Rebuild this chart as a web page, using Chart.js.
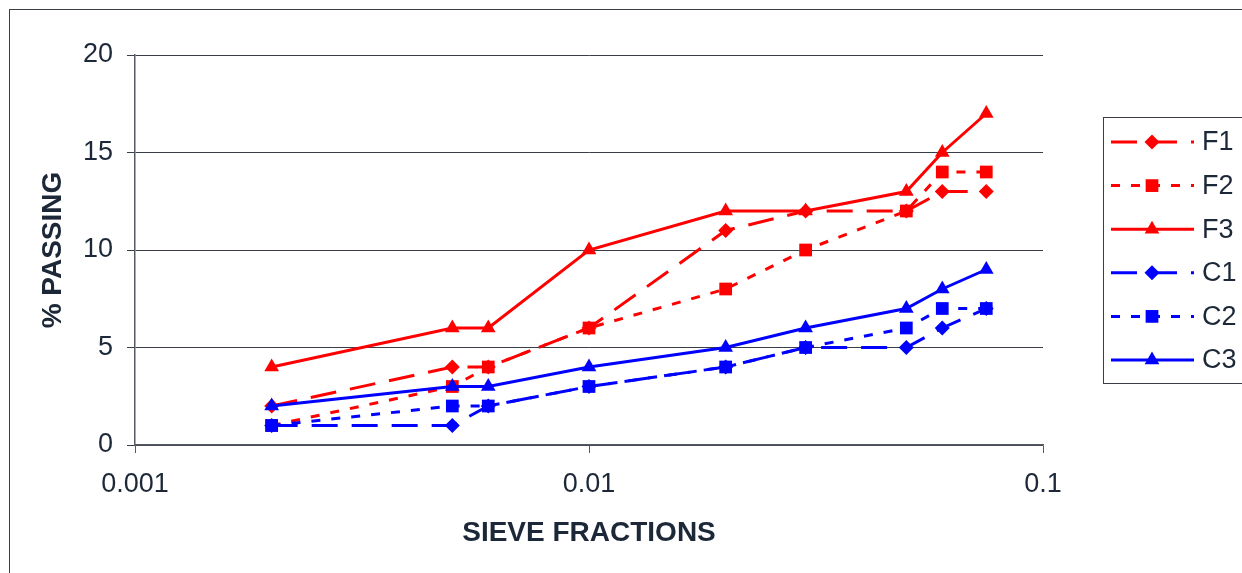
<!DOCTYPE html>
<html><head><meta charset="utf-8">
<script src="https://cdn.jsdelivr.net/npm/chart.js@4"></script>
<style>html,body{margin:0;padding:0;background:#fff}#wrap{width:1242px;height:573px;position:relative}</style>
</head><body><div id="wrap"><canvas id="c" width="1242" height="573"></canvas></div>
<script>
const sieveSizes = [0.002, 0.005, 0.006, 0.01, 0.02, 0.03, 0.05, 0.06, 0.075];
const seriesNames = ['F1', 'F2', 'F3', 'C1', 'C2', 'C3'];
const F1 = [2, 4, 4, 6, 11, 12, 12, 13, 13];
const F2 = [1, 3, 4, 6, 8, 10, 12, 14, 14];
const F3 = [4, 6, 6, 10, 12, 12, 13, 15, 17];
const C1 = [1, 1, 2, 3, 4, 5, 5, 6, 7];
const C2 = [1, 2, 2, 3, 4, 5, 6, 7, 7];
const C3 = [2, 3, 3, 4, 5, 6, 7, 8, 9];
const xTicks = [0.001, 0.01, 0.1];
const yTicks = [0, 5, 10, 15, 20];
const xTitle = 'SIEVE FRACTIONS';
const yTitle = '% PASSING';

const FONT = "'Liberation Sans', Arial, sans-serif";
const TXT = '#1c2838';
const RED = '#ff0000', BLUE = '#0000ff';
const DASH_LONG = [26, 14], DASH_SHORT = [9, 11];

const styles = [
  {color: RED, dash: DASH_LONG, point: 'rectRot', r: 7.5},
  {color: RED, dash: DASH_SHORT, point: 'rect', r: 9},
  {color: RED, dash: [], point: 'triangle', r: 8.5},
  {color: BLUE, dash: DASH_LONG, point: 'rectRot', r: 7.5},
  {color: BLUE, dash: DASH_SHORT, point: 'rect', r: 9},
  {color: BLUE, dash: [], point: 'triangle', r: 8.5}
];
const values = [F1, F2, F3, C1, C2, C3];

const datasets = seriesNames.map((name, i) => ({
  label: name,
  data: sieveSizes.map((x, j) => ({x: x, y: values[i][j]})),
  borderColor: styles[i].color,
  backgroundColor: styles[i].color,
  borderWidth: 3,
  borderDash: styles[i].dash,
  pointStyle: styles[i].point,
  pointRadius: styles[i].r,
  pointHoverRadius: styles[i].r,
  pointBorderWidth: 0,
  pointBackgroundColor: styles[i].color,
  showLine: true,
  tension: 0,
  order: seriesNames.length - i
}));

function drawMarker(ctx, style, x, y, r, color) {
  ctx.save();
  ctx.fillStyle = color;
  ctx.beginPath();
  if (style === 'rect') {
    const s = r * Math.SQRT1_2;
    ctx.rect(x - s, y - s, 2 * s, 2 * s);
  } else if (style === 'rectRot') {
    ctx.moveTo(x - r, y); ctx.lineTo(x, y - r); ctx.lineTo(x + r, y); ctx.lineTo(x, y + r); ctx.closePath();
  } else {
    const a = 2 * Math.PI / 3;
    ctx.moveTo(x, y - r);
    ctx.lineTo(x + Math.sin(a) * r, y - Math.cos(a) * r);
    ctx.lineTo(x + Math.sin(2 * a) * r, y - Math.cos(2 * a) * r);
    ctx.closePath();
  }
  ctx.fill();
  ctx.restore();
}

const decor = {
  id: 'decor',
  afterDraw(chart) {
    const ctx = chart.ctx;
    const area = chart.chartArea;
    ctx.save();
    // outer frame
    ctx.strokeStyle = '#3a3f47';
    ctx.lineWidth = 1;
    ctx.strokeRect(9.5, 9.5, 1400, 1000);
    // axis titles
    ctx.fillStyle = TXT;
    ctx.font = "bold 28px " + FONT;
    ctx.textAlign = 'center';
    ctx.textBaseline = 'middle';
    ctx.fillText(xTitle, (area.left + area.right) / 2, 533);
    ctx.save();
    ctx.translate(53, (area.top + area.bottom) / 2);
    ctx.rotate(-Math.PI / 2);
    ctx.fillText(yTitle, 0, 0);
    ctx.restore();
    // legend
    ctx.strokeStyle = '#3a3f47';
    ctx.strokeRect(1103.5, 117.5, 300, 266);
    ctx.font = "27px " + FONT;
    ctx.textAlign = 'left';
    seriesNames.forEach((name, i) => {
      const y = 142 + i * 43.6;
      const st = styles[i];
      ctx.save();
      ctx.strokeStyle = st.color;
      ctx.lineWidth = 3;
      ctx.setLineDash(st.dash);
      ctx.beginPath();
      ctx.moveTo(1111, y); ctx.lineTo(1194, y);
      ctx.stroke();
      ctx.restore();
      drawMarker(ctx, st.point, 1152, y, st.r, st.color);
      ctx.fillStyle = TXT;
      ctx.fillText(name, 1202, y + 1);
    });
    ctx.restore();
  }
};

new Chart(document.getElementById('c'), {
  type: 'scatter',
  data: {datasets: datasets},
  options: {
    responsive: false,
    animation: false,
    devicePixelRatio: 1,
    layout: {padding: {top: 55, right: 199, bottom: 0, left: 0}},
    plugins: {legend: {display: false}, tooltip: {enabled: false}},
    scales: {
      x: {
        type: 'logarithmic',
        min: 0.001, max: 0.1,
        afterBuildTicks: s => { s.ticks = xTicks.map(v => ({value: v})); },
        afterFit: s => { s.height = 128; },
        ticks: {
          callback: v => String(v),
          font: {size: 27, family: FONT},
          color: TXT, padding: 15, maxRotation: 0, autoSkip: false
        },
        grid: {drawOnChartArea: false, drawTicks: true, tickLength: 8, color: '#555a62'},
        border: {display: true, color: '#555a62', width: 1.5}
      },
      y: {
        min: 0, max: 20,
        afterBuildTicks: s => { s.ticks = yTicks.map(v => ({value: v})); },
        afterFit: s => { s.width = 135; },
        ticks: {
          font: {size: 27, family: FONT},
          color: TXT, padding: 14
        },
        grid: {color: '#3a3f47', lineWidth: 1, drawTicks: true, tickLength: 8},
        border: {display: true, color: '#555a62', width: 1.5}
      }
    }
  },
  plugins: [decor]
});
</script>
</body></html>
